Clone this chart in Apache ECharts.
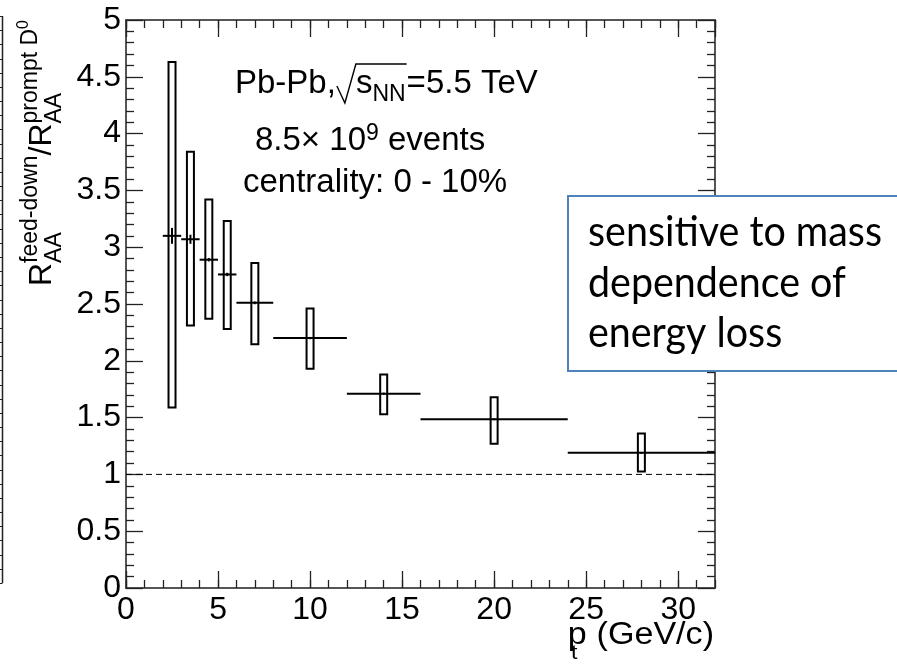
<!DOCTYPE html>
<html>
<head>
<meta charset="utf-8">
<script src="https://cdn.jsdelivr.net/npm/echarts@6/dist/echarts.min.js"></script>
<style>
  html, body { margin: 0; padding: 0; background: #fff; }
  #chart { width: 897px; height: 665px; }
</style>
</head>
<body>
<div id="chart"></div>
<script>
// pt bins (GeV/c), ratio of feed-down to prompt D0 R_AA, statistical and systematic ranges
const binLow  = [2, 3, 4, 5, 6, 8, 12, 16, 24];
const binHigh = [3, 4, 5, 6, 8, 12, 16, 24, 32];
const ratio   = [3.10, 3.07, 2.89, 2.76, 2.51, 2.20, 1.71, 1.485, 1.19];
const statErr = [0.07, 0.04, 0.015, 0.015, 0.012, 0.01, 0.01, 0.008, 0.008];
const sysLow  = [1.59, 2.31, 2.37, 2.28, 2.145, 1.93, 1.53, 1.27, 1.025];
const sysHigh = [4.63, 3.84, 3.42, 3.23, 2.86, 2.46, 1.88, 1.68, 1.36];

// axis ranges and tick steps
const xRange = [0, 32];
const yRange = [0, 5];
const xMajorStep = 5;
const xMinorStep = 1;
const yMajorStep = 0.5;
const unityLevel = 1;

const FONT = '"Liberation Sans", Arial, Helvetica, sans-serif';
const BOX_FONT = 'Lato, "Open Sans", sans-serif';

const mctx = document.createElement('canvas').getContext('2d');
function textWidth(str, size, fam) {
  mctx.font = size + 'px ' + (fam || FONT);
  mctx.textBaseline = 'alphabetic';
  return mctx.measureText(str).width;
}
// distance from the em-box middle (used by the renderer) down to the alphabetic baseline
function midToBaseline(size, fam) {
  mctx.font = size + 'px ' + (fam || FONT);
  mctx.textBaseline = 'middle';
  const d = mctx.measureText('H').actualBoundingBoxDescent;
  mctx.textBaseline = 'alphabetic';
  return d;
}
// a text run placed by its left end and its baseline
function run(str, x, baseline, size, fam, extra) {
  const el = {
    type: 'text',
    x: x,
    y: baseline - midToBaseline(size, fam),
    z: 100,
    silent: true,
    style: {
      text: str,
      font: size + 'px ' + (fam || FONT),
      fill: '#000',
      textAlign: 'left', align: 'left',
      textVerticalAlign: 'middle', verticalAlign: 'middle'
    }
  };
  return Object.assign(el, extra || {});
}

const rows = binLow.map((lo, i) => [
  lo, binHigh[i], ratio[i], (lo + binHigh[i]) / 2, statErr[i], sysLow[i], sysHigh[i]
]);
const unityLine = [[xRange[0], unityLevel], [xRange[1], unityLevel]];

function renderPoint(params, api) {
  const x0 = api.value(0), x1 = api.value(1), v = api.value(2), xc = api.value(3);
  const se = api.value(4), lo = api.value(5), hi = api.value(6);
  const pL = api.coord([x0, v]);
  const pR = api.coord([x1, v]);
  const pC = api.coord([xc, v]);
  const pHi = api.coord([xc, hi]);
  const pLo = api.coord([xc, lo]);
  const pSu = api.coord([xc, v + se]);
  const pSd = api.coord([xc, v - se]);
  const half = 3.5;
  return {
    type: 'group',
    children: [
      { type: 'rect', shape: { x: pC[0] - half, y: pHi[1], width: 2 * half, height: pLo[1] - pHi[1] },
        style: { fill: 'none', stroke: '#000', lineWidth: 2 } },
      { type: 'line', shape: { x1: pL[0], y1: pC[1], x2: pR[0], y2: pC[1] },
        style: { stroke: '#000', lineWidth: 2 } },
      { type: 'line', shape: { x1: pC[0], y1: pSu[1], x2: pC[0], y2: pSd[1] },
        style: { stroke: '#000', lineWidth: 2 } }
    ]
  };
}

const axisLineStyle = { color: '#555', width: 2 };
const tickStyle = { color: '#222', width: 1.3 };
const labelStyle = { fontFamily: FONT, fontSize: 32, color: '#000' };

function xAxisDef(position, step, tickLen, withLabels) {
  return {
    type: 'value', position: position, min: xRange[0], max: xRange[1], interval: step,
    axisLine: { show: true, onZero: false, lineStyle: axisLineStyle },
    axisTick: { show: true, inside: true, length: tickLen, lineStyle: tickStyle },
    axisLabel: withLabels
      ? Object.assign({ show: true, margin: 6, showMaxLabel: false, showMinLabel: true }, labelStyle)
      : { show: false },
    splitLine: { show: false }
  };
}
function yAxisDef(position, withLabels) {
  return {
    type: 'value', position: position, min: yRange[0], max: yRange[1], interval: yMajorStep,
    axisLine: { show: true, onZero: false, lineStyle: axisLineStyle },
    axisTick: { show: true, inside: true, length: 17, lineStyle: tickStyle },
    minorTick: { show: true, splitNumber: 5, length: 8, lineStyle: tickStyle },
    axisLabel: withLabels ? Object.assign({ show: true, margin: 5 }, labelStyle) : { show: false },
    splitLine: { show: false },
    minorSplitLine: { show: false }
  };
}

// ---- annotation texts ----
const graphics = [];

// header block
(function () {
  const S = 33, s = 23;
  // line 1: Pb-Pb, sqrt(s_NN)=5.5 TeV
  const b1 = 93;
  let x = 235;
  graphics.push(run('Pb-Pb,', x, b1, S));
  x += textWidth('Pb-Pb,', S);
  const rx = x + 1;
  const sx = rx + 19;
  graphics.push(run('s', sx, b1, S));
  const nnx = sx + textWidth('s', S);
  graphics.push(run('NN', nnx, b1 + 8, s));
  const over = nnx + textWidth('NN', s) + 1;
  graphics.push({
    type: 'polyline', z: 100, silent: true,
    shape: { points: [[rx, b1 - 7], [rx + 8, b1 + 10], [rx + 19, b1 - 29], [over, b1 - 29]] },
    style: { stroke: '#000', lineWidth: 1.4, fill: null }
  });
  graphics.push(run('=5.5 TeV', over, b1, S));

  // line 2: 8.5 x 10^9 events
  const b2 = 150;
  x = 255;
  graphics.push(run('8.5\u00d7 10', x, b2, S));
  x += textWidth('8.5\u00d7 10', S);
  graphics.push(run('9', x, b2 - 10, s));
  x += textWidth('9', s);
  graphics.push(run(' events', x, b2, S));

  // line 3
  graphics.push(run('centrality: 0 - 10%', 243, 191.7, S));
})();

// y-axis title, rotated to read bottom-to-top
(function () {
  const S = 32, s = 23, ss = 16;
  const sub = 10, sup = -14;
  const kids = [];
  let x = 0;
  kids.push(run('R', x, 0, S));
  x += textWidth('R', S);
  kids.push(run('AA', x, sub, s));
  kids.push(run('feed-down', x, sup, s));
  x += Math.max(textWidth('AA', s), textWidth('feed-down', s));
  kids.push(run('/', x, 0, S));
  x += textWidth('/', S);
  kids.push(run('R', x, 0, S));
  x += textWidth('R', S);
  kids.push(run('AA', x, sub, s));
  kids.push(run('prompt D', x, sup, s));
  x += textWidth('prompt D', s);
  kids.push(run('0', x, sup - 9, ss));
  graphics.push({ type: 'group', x: 51, y: 286, rotation: Math.PI / 2, z: 100, children: kids });
})();

// x-axis title: p_t (GeV/c), drawn slightly widened
(function () {
  const S = 31, s = 21;
  const right = 714, base = 644;
  const k = 1.1;
  const kids = [];
  const wg = textWidth('(GeV/c)', S);
  const wp = textWidth('p', S);
  // local coordinates, right end at 0
  kids.push(run('(GeV/c)', -wg, 0, S));
  kids.push(run('p', -wg - 9 - wp, 0, S));
  kids.push(run('t', -wg - 9 - wp + 3, 15, s));
  graphics.push({ type: 'group', x: right, y: base, scaleX: k, z: 100, children: kids });
})();

// edge of the neighbouring panel on the far left
(function () {
  const top = 16, bottom = 583, n = 40;
  graphics.push({ type: 'line', z: 100, silent: true,
    shape: { x1: 2.5, y1: top, x2: 2.5, y2: bottom }, style: { stroke: '#222', lineWidth: 1.5 } });
  for (let i = 0; i <= n; i++) {
    const y = Math.round(top + (bottom - top) * i / n) + 0.5;
    graphics.push({ type: 'line', z: 100, silent: true,
      shape: { x1: 0, y1: y, x2: 2.5, y2: y }, style: { stroke: '#222', lineWidth: 1 } });
  }
})();

// call-out box
(function () {
  graphics.push({ type: 'rect', z: 110, silent: true,
    shape: { x: 568, y: 196, width: 330, height: 175 },
    style: { fill: '#fff', stroke: '#4f81bd', lineWidth: 2 } });
  const lines = ['sensitive to mass', 'dependence of', 'energy loss'];
  const size = 43;
  const k = 294 / textWidth(lines[0], size, BOX_FONT);
  const bases = [245.7, 296.7, 346.7];
  lines.forEach((t, i) => {
    const el = run(t, 0, 0, size, BOX_FONT);
    el.z = 120;
    graphics.push({ type: 'group', x: 588, y: bases[i], scaleX: k, z: 120, children: [el] });
  });
})();

const chart = echarts.init(document.getElementById('chart'), null, { renderer: 'canvas' });
chart.setOption({
  animation: false,
  backgroundColor: '#fff',
  grid: { left: 126, top: 20, right: 182, bottom: 77, containLabel: false, outerBoundsMode: 'none' },
  xAxis: [
    xAxisDef('bottom', xMajorStep, 17, true),
    xAxisDef('bottom', xMinorStep, 8, false),
    xAxisDef('top', xMajorStep, 17, false),
    xAxisDef('top', xMinorStep, 8, false)
  ],
  yAxis: [
    yAxisDef('left', true),
    yAxisDef('right', false)
  ],
  series: [
    {
      type: 'line', data: unityLine, xAxisIndex: 0, yAxisIndex: 0,
      symbol: 'none', silent: true,
      lineStyle: { color: '#000', width: 1, type: [6, 4] }
    },
    {
      type: 'custom', data: rows, xAxisIndex: 0, yAxisIndex: 0,
      renderItem: renderPoint, silent: true,
      encode: { x: [0, 1, 3], y: [2, 5, 6] }
    }
  ],
  graphic: graphics
});
</script>
</body>
</html>
